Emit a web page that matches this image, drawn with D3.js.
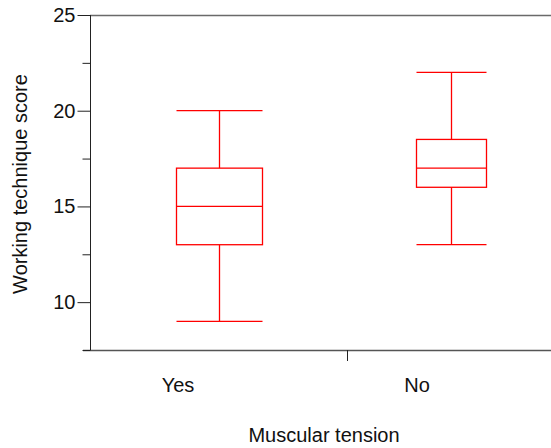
<!DOCTYPE html>
<html><head><meta charset="utf-8">
<script src="https://cdn.jsdelivr.net/npm/d3@7/dist/d3.min.js"></script>
<style>body{margin:0;background:#fff;}svg{display:block;font-family:"Liberation Sans",Arial,sans-serif;}</style>
</head><body>
<svg id="c" width="551" height="448"></svg>
<script>
const categories = ["Yes", "No"];
const whiskerLow = [9, 13];
const q1 = [13, 16];
const median = [15, 17];
const q3 = [17, 18.5];
const whiskerHigh = [20, 22];
const yMajorTicks = [10, 15, 20, 25];
const yMinorTicks = [7.5, 12.5, 17.5, 22.5];

const plotL = 90, plotR = 551, plotT = 15, plotB = 350;
const boxW = [86, 70];
const red = "#ff0000";
const svg = d3.select("#c");

const y = d3.scaleLinear().domain([7.5, 25]).range([plotB, plotT]);
const x = d3.scalePoint().domain(categories).range([219, 451]);
const xLabel = d3.scalePoint().domain(categories).range([178, 417]);

// frame lines
svg.append("line").attr("x1", plotL).attr("x2", plotR).attr("y1", plotT + 0.5).attr("y2", plotT + 0.5)
  .attr("stroke", "#6a6a6a").attr("stroke-width", 1.5);
svg.append("line").attr("x1", 83).attr("x2", plotR).attr("y1", plotB + 0.5).attr("y2", plotB + 0.5)
  .attr("stroke", "#555").attr("stroke-width", 1.5);

// y axis major
const gMaj = svg.append("g").attr("transform", `translate(${plotL + 0.5},0)`)
  .call(d3.axisLeft(y).tickValues(yMajorTicks).tickSize(13).tickPadding(2).tickFormat(d3.format("d")));
gMaj.select(".domain").attr("d", `M0,${plotT}V${plotB}`).attr("stroke", "#222");
gMaj.selectAll(".tick line").attr("stroke", "#222");
gMaj.selectAll("text").attr("font-size", 20).attr("fill", "#111").attr("font-family", "Liberation Sans, Arial, sans-serif");
// y axis minor
const gMin = svg.append("g").attr("transform", `translate(${plotL + 0.5},0)`)
  .call(d3.axisLeft(y).tickValues(yMinorTicks).tickSize(8).tickFormat(""));
gMin.select(".domain").remove();
gMin.selectAll(".tick line").attr("stroke", "#222");

// x separator tick
svg.append("line").attr("x1", 347.5).attr("x2", 347.5).attr("y1", plotB).attr("y2", plotB + 11)
  .attr("stroke", "#222");

// x labels
svg.selectAll("text.xl").data(categories).enter().append("text").attr("class", "xl")
  .attr("x", d => xLabel(d)).attr("y", 392).attr("text-anchor", "middle")
  .attr("font-size", 20).attr("fill", "#111").text(d => d);

// axis titles
svg.append("text").attr("x", 324).attr("y", 442).attr("text-anchor", "middle")
  .attr("font-size", 20).attr("fill", "#111").text("Muscular tension");
svg.append("text").attr("transform", "translate(27,184) rotate(-90)").attr("text-anchor", "middle")
  .attr("font-size", 20).attr("fill", "#111").text("Working technique score");

// boxes
const g = svg.append("g").attr("stroke", red).attr("stroke-width", 1.3).attr("fill", "none");
categories.forEach((c, i) => {
  const cx = Math.round(x(c)) + 0.5, hw = boxW[i] / 2;
  const gb = g.append("g");
  gb.append("line").attr("x1", cx).attr("x2", cx).attr("y1", y(whiskerHigh[i])).attr("y2", y(q3[i]));
  gb.append("line").attr("x1", cx).attr("x2", cx).attr("y1", y(q1[i])).attr("y2", y(whiskerLow[i]));
  gb.append("line").attr("x1", cx - hw).attr("x2", cx + hw).attr("y1", y(whiskerHigh[i])).attr("y2", y(whiskerHigh[i]));
  gb.append("line").attr("x1", cx - hw).attr("x2", cx + hw).attr("y1", y(whiskerLow[i])).attr("y2", y(whiskerLow[i]));
  gb.append("rect").attr("x", cx - hw).attr("width", boxW[i]).attr("y", y(q3[i])).attr("height", y(q1[i]) - y(q3[i]));
  gb.append("line").attr("x1", cx - hw).attr("x2", cx + hw).attr("y1", y(median[i])).attr("y2", y(median[i]));
});
</script>
</body></html>
